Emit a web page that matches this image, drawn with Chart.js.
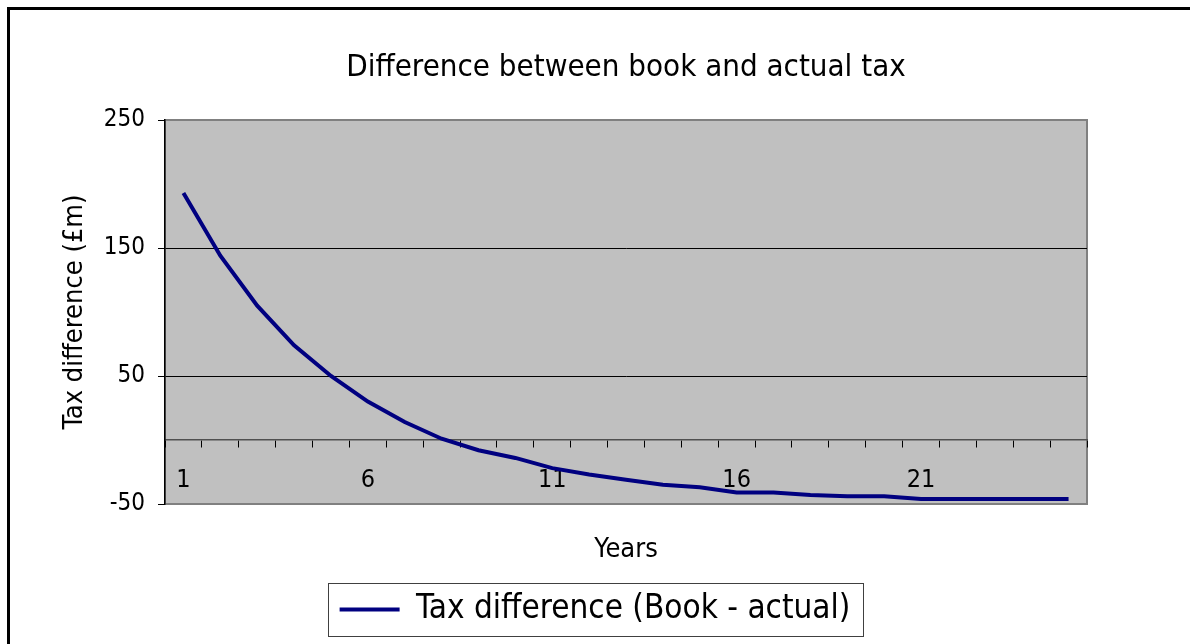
<!DOCTYPE html>
<html>
<head>
<meta charset="utf-8">
<script src="https://cdn.jsdelivr.net/npm/chart.js@4"></script>
<style>
  html, body { margin: 0; padding: 0; background: #fff; overflow: hidden; }
  #frame {
    position: absolute; left: 7px; top: 7px;
    width: 1300px; height: 800px;
    border: 3px solid #000;
  }
  #taxChart { position: absolute; left: 0; top: 0; }
</style>
</head>
<body>
<div id="frame"></div>
<canvas id="taxChart" width="1190" height="644"></canvas>
<script>
/* ── Дані ─────────────────────────────────────────── */
const years = ['1','2','3','4','5','6','7','8','9','10','11','12','13',
               '14','15','16','17','18','19','20','21','22','23','24','25'];
const taxDifference = [193, 144, 105, 74, 50, 30, 14, 1, -8, -14, -22, -27, -31,
                       -35, -37, -41, -41, -43, -44, -44, -46, -46, -46, -46, -46];
const yTicks = [-50, 50, 150, 250];

const FONT = '"DejaVu Sans Condensed", "DejaVu Sans", sans-serif';

/* ── Фон і рамка області побудови ─────────────────── */
const plotBackground = {
    id: 'plotBackground',
    beforeDraw(chart) {
        const { ctx, chartArea: a } = chart;
        ctx.save();
        ctx.fillStyle = '#c0c0c0';
        ctx.fillRect(a.left, a.top, a.width, a.height);
        ctx.strokeStyle = '#808080';
        ctx.lineWidth = 2;
        ctx.strokeRect(a.left, a.top, a.width, a.height);
        ctx.restore();
    }
};

/* Рамка навколо легенди */
const legendFrame = {
    id: 'legendFrame',
    afterDraw(chart) {
        const hb = chart.legend && chart.legend.legendHitBoxes[0];
        if (!hb) return;
        const ctx = chart.ctx;
        const cy = hb.top + hb.height / 2;
        ctx.save();
        ctx.strokeStyle = '#404040';
        ctx.lineWidth = 1;
        ctx.strokeRect(Math.round(hb.left - 12) + 0.5, Math.round(cy - 26.5) + 0.5,
                       Math.round(hb.width + 24), 53);
        ctx.restore();
    }
};

new Chart(document.getElementById('taxChart'), {
    type: 'line',
    data: {
        labels: years,
        datasets: [{
            label: 'Tax difference (Book - actual)',
            data: taxDifference,
            xAxisID: 'x',
            yAxisID: 'y',
            borderColor: '#000080',
            backgroundColor: '#000080',
            borderWidth: 4,
            pointRadius: 0,
            tension: 0,
            fill: false
        }]
    },
    options: {
        responsive: false,
        animation: false,
        layout: { padding: { left: 0, right: 0, top: 0, bottom: 8 } },
        plugins: {
            title: {
                display: true,
                text: 'Difference between book and actual tax',
                fullSize: false,
                color: '#000',
                font: { family: FONT, size: 31, weight: 'normal' },
                padding: { top: 49.4, bottom: 33.4 }
            },
            legend: {
                position: 'bottom',
                labels: {
                    color: '#000',
                    font: { family: FONT, size: 33 },
                    usePointStyle: true,
                    pointStyle: 'line',
                    pointStyleWidth: 60,
                    padding: 10
                }
            },
            tooltip: { enabled: false }
        },
        scales: {
            x: {
                type: 'category',
                position: 'bottom',
                offset: true,
                ticks: { display: false },
                grid: { display: false },
                border: { display: false },
                title: {
                    display: true,
                    text: 'Years',
                    color: '#000',
                    font: { family: FONT, size: 27 },
                    padding: { top: 0, bottom: 17 }
                },
                afterFit(scale) { scale.height = 79; }
            },
            xz: {
                type: 'category',
                position: { y: 0 },
                offset: true,
                grid: {
                    offset: true,
                    drawOnChartArea: false,
                    drawTicks: true,
                    tickLength: 7,
                    tickColor: '#000'
                },
                border: { display: true, color: '#505050', width: 1.5 },
                ticks: {
                    autoSkip: false,
                    maxRotation: 0,
                    color: '#000',
                    padding: 18,
                    font: { family: FONT, size: 25 },
                    callback: (v, i) => (i % 5 === 0 ? years[i] : '')
                },
                afterFit(scale) { scale.height = 0; }
            },
            y: {
                min: -50,
                max: 250,
                afterBuildTicks(scale) { scale.ticks = yTicks.map(v => ({ value: v })); },
                grid: {
                    color: ctx => (ctx.tick && (ctx.tick.value === 250 || ctx.tick.value === -50)) ? '#808080' : '#000',
                    lineWidth: 1,
                    tickLength: 7,
                    tickColor: '#000'
                },
                border: { display: true, color: '#000', width: 1.5 },
                ticks: {
                    color: '#000',
                    padding: 13,
                    font: { family: FONT, size: 24 }
                },
                title: {
                    display: true,
                    text: 'Tax difference (£m)',
                    color: '#000',
                    font: { family: FONT, size: 27 },
                    padding: { top: 59, bottom: 0 }
                },
                afterFit(scale) { scale.width = 165; }
            },
            // порожня права вісь лише резервує відступ праворуч від області побудови
            yRight: {
                type: 'linear',
                position: 'right',
                ticks: { display: false },
                grid: { display: false },
                border: { display: false },
                afterFit(scale) { scale.width = 103; }
            }
        }
    },
    plugins: [plotBackground, legendFrame]
});
</script>
</body>
</html>
